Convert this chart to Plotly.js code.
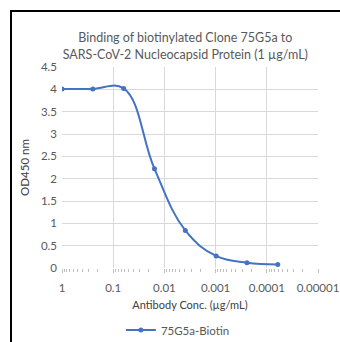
<!DOCTYPE html>
<html>
<head>
<meta charset="utf-8">
<script src="https://cdn.plot.ly/plotly-3.0.1.min.js"></script>
<style>
html,body{margin:0;padding:0;background:#fff;}
#wrap{position:relative;width:340px;height:342px;overflow:hidden;}
#chart{position:absolute;left:0;top:0;width:340px;height:342px;}
#frame{position:absolute;left:10px;top:10px;width:340px;height:340px;border-top:2px solid #000;border-left:2px solid #000;pointer-events:none;}
</style>
</head>
<body>
<div id="wrap"><div id="chart"></div><div id="frame"></div></div>
<script>
// Data
const concentrations = [1, 0.25, 0.0625, 0.015625, 0.00390625, 0.0009765625, 0.000244140625, 0.00006103515625];
const od450 = [4.01, 4.01, 4.02, 2.22, 0.84, 0.27, 0.12, 0.08];
const seriesName = '75G5a-Biotin';
const xTickVals = [1, 0.1, 0.01, 0.001, 0.0001, 0.00001];
const xTickText = ['1', '0.1', '0.01', '0.001', '0.0001', '0.00001'];

// minor tick positions (axis decoration)
const minorVals = [];
for (let e = 0; e > -5; e--) {
  for (let d = 2; d <= 9; d++) minorVals.push(d * Math.pow(10, e - 1));
}

const font = "Lato, 'Open Sans', sans-serif";
const grey = '#595959';
const blue = '#4472C4';

Plotly.newPlot('chart', [{
  x: concentrations,
  y: od450,
  name: seriesName,
  type: 'scatter',
  mode: 'lines+markers',
  line: {color: blue, width: 2, shape: 'spline', smoothing: 1.15},
  marker: {color: blue, size: 5, symbol: 'circle'}
}], {
  width: 340, height: 342,
  margin: {l: 62, r: 22, t: 67, b: 74, autoexpand: false},
  paper_bgcolor: '#fff', plot_bgcolor: '#fff',
  font: {family: font, color: grey, size: 11},
  title: {
    text: 'Binding of biotinylated Clone 75G5a to<br>SARS-CoV-2 Nucleocapsid Protein (1 µg/mL)',
    font: {family: font, size: 12.5, color: grey},
    x: 0.545, xanchor: 'center', yref: 'container', y: 0.876, yanchor: 'middle'
  },
  xaxis: {
    type: 'log',
    range: [0, -5],
    tickmode: 'array', tickvals: xTickVals, ticktext: xTickText,
    showgrid: true, gridcolor: '#d9d9d9', gridwidth: 1,
    zeroline: false, showline: false,
    ticks: 'outside', ticklen: 4, tickcolor: '#bfbfbf',
    ticklabelstandoff: 5,
    tickfont: {family: font, size: 11.5, color: grey},
    minor: {tickmode: 'array', tickvals: minorVals, ticks: 'outside', ticklen: 3, tickcolor: '#bfbfbf', showgrid: false},
    title: {text: 'Antibody Conc. (µg/mL)', font: {family: font, size: 11, color: '#404040'}, standoff: 8}
  },
  yaxis: {
    range: [0, 4.5],
    dtick: 0.5,
    showgrid: true, gridcolor: '#d9d9d9', gridwidth: 1,
    zeroline: false, showline: false,
    ticks: '',
    ticklabelstandoff: 4,
    tickfont: {family: font, size: 11.5, color: grey},
    title: {text: 'OD450 nm', font: {family: font, size: 11.5, color: '#404040'}, standoff: 8}
  },
  showlegend: true,
  legend: {
    orientation: 'h', xref: 'paper', x: 0.23, xanchor: 'left',
    yref: 'container', y: 0.035, yanchor: 'middle',
    font: {family: font, size: 11.5, color: grey},
    itemwidth: 30
  }
}, {displayModeBar: false, staticPlot: true});
</script>
</body>
</html>
